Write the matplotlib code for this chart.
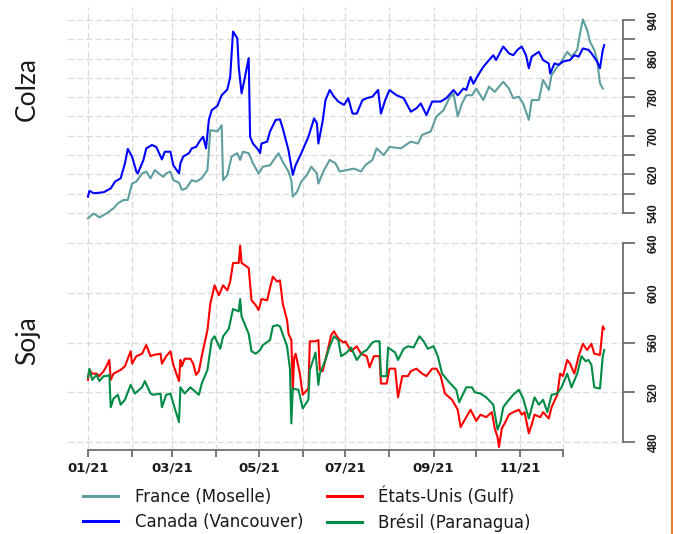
import numpy as np
import matplotlib
matplotlib.use('Agg')
import matplotlib.pyplot as plt
from matplotlib.lines import Line2D

# days counted from 2021-01-01
france_days = [0, 4, 8, 13, 18, 21, 25, 28, 31, 34, 38, 41, 44, 47, 51, 53, 55, 58, 60, 64,
               66, 69, 73, 76, 80, 84, 86, 91, 94, 95, 98, 101, 105, 107, 109, 113, 116, 120, 123, 128,
               134, 137, 141, 143, 144, 147, 150, 154, 157, 161, 162, 166, 170,
               174, 177, 182, 187, 192, 195, 200, 203, 208, 212, 220, 227, 232, 235, 241, 245, 250, 254, 257, 260,
               263, 266, 270, 273, 278, 282, 286, 292, 296, 299, 303, 306, 310, 312, 317, 320, 324, 326, 330, 333,
               337, 340, 344, 346, 348, 351, 353, 356, 358, 360, 362]
france = [529, 539, 531, 539, 550, 560, 567, 567, 601, 605, 622, 626, 612, 629, 619, 615, 622, 626, 608, 603,
          588, 591, 608, 605, 612, 629, 712, 709, 722, 608, 619, 657, 664, 650, 667, 664, 643, 622, 636, 639,
          664, 646, 626, 608, 574, 584, 605, 619, 636, 622, 601, 629, 650,
          643, 626, 629, 632, 626, 639, 650, 674, 660, 677, 674, 688, 684, 702, 709, 740, 753, 778, 788, 740,
          767, 784, 784, 798, 774, 802, 791, 812, 798, 778, 781, 767, 733, 774, 774, 816, 795, 826, 843, 854,
          874, 864, 878, 912, 941, 919, 895, 878, 857, 809, 798]

canada_days = [0, 1, 4, 11, 16, 19, 23, 26, 28, 31, 34, 35, 39, 41, 45, 48, 52, 54, 58, 60,
               64, 65, 67, 71, 73, 76, 79, 81, 83, 85, 87, 91, 94, 98, 100, 102, 105, 106, 108, 110,
               113, 114, 116, 120, 121, 122, 126, 128, 132, 135, 137, 141, 144, 146, 150, 155, 159, 161, 162, 165,
               167, 170,
               173, 176, 180, 183, 186, 189, 193, 196, 200, 204, 206, 209, 212, 217, 222, 227, 231, 234, 238, 242,
               248, 252, 257, 260, 264, 266, 269, 271, 275, 278, 282, 285, 287, 290, 292, 296, 299, 302, 305, 308,
               310, 312, 317, 320, 324, 325, 328, 331, 334, 339, 342, 345, 348, 352, 354, 358, 360, 362, 363]
canada = [574, 586, 581, 583, 591, 605, 612, 643, 673, 657, 626, 622, 650, 674, 681, 677, 651, 667, 667, 639,
          622, 643, 657, 664, 674, 677, 691, 698, 674, 733, 753, 762, 784, 796, 822, 916, 902, 843, 788, 816,
          861, 698, 684, 670, 664, 684, 688, 709, 733, 734, 715, 670, 619, 639, 664, 698, 736, 726, 684, 730,
          774, 795,
          781, 771, 764, 778, 746, 746, 774, 778, 781, 795, 746, 774, 795, 784, 778, 750, 757, 767, 743, 771,
          771, 778, 795, 784, 798, 795, 822, 808, 829, 843, 857, 867, 857, 874, 885, 871, 867, 878, 885, 867,
          840, 864, 874, 857, 850, 829, 850, 847, 854, 857, 867, 864, 881, 878, 871, 854, 840, 878, 888]

usa_days = [0, 1, 3, 6, 8, 11, 13, 15, 16, 18, 23, 26, 30, 31, 34, 38, 41, 44, 46, 51,
            52, 55, 58, 60, 64, 65, 66, 68, 72, 74, 76, 78, 80, 84, 86, 89, 92, 95, 98, 100,
            102, 106, 107, 108, 113, 115, 118, 120, 122, 126, 128, 130, 133, 135, 137, 140,
            141, 143, 144, 145, 146, 149, 151, 155, 156, 160, 162, 163, 165, 168, 171, 173, 175, 177, 180, 181,
            185, 189, 192, 196, 198, 201, 205, 206, 210, 212, 216, 218, 221, 225, 227, 231, 235, 238, 242, 245,
            248, 251, 256, 260, 262, 266, 269, 273,
            276, 280, 284, 286, 288, 289, 291, 293, 296, 299, 303, 305, 307, 310, 312, 314, 318, 320, 324, 326,
            330, 332, 334, 337, 339, 342, 345, 348, 351, 354, 356, 360, 362, 363]
usa = [530, 538, 535, 535, 533, 537, 541, 546, 530, 535, 538, 541, 553, 543, 549, 551, 558, 549, 550, 551,
       543, 549, 553, 542, 529, 546, 541, 547, 547, 543, 534, 537, 549, 570, 591, 606, 598, 606, 602, 609,
       624, 624, 638, 624, 620, 594, 590, 586, 595, 594, 604, 613, 609, 610, 591, 578,
       567, 562, 522, 548, 551, 535, 518, 523, 561, 561, 562, 538, 537, 551, 566, 569, 565, 562, 560, 561,
       553, 557, 551, 549, 540, 549, 549, 527, 527, 539, 539, 516, 533, 533, 537, 539, 535, 533, 539, 539,
       533, 519, 514, 506, 492, 500, 506, 497,
       502, 500, 504, 491, 484, 476, 491, 495, 502, 504, 506, 502, 504, 487, 494, 502, 500, 504, 499, 508,
       518, 535, 533, 546, 543, 535, 549, 559, 554, 559, 551, 550, 573, 571]

brazil_days = [0, 1, 3, 6, 8, 11, 13, 15, 16, 18, 21, 23, 26, 30, 33, 38, 40, 44, 46, 51,
               52, 55, 58, 60, 64, 65, 68, 72, 74, 78, 80, 84, 87, 89, 93, 95, 99, 102, 106, 107,
               108, 113, 115, 118, 121, 123, 128, 130, 133, 135,
               140, 142, 143, 144, 148, 151, 155, 156, 160, 162, 163, 167, 170, 173, 176, 178, 182, 185, 189, 193,
               196, 200, 202, 205, 206, 210, 211, 216, 218, 222, 225, 229, 233, 236, 239, 243, 246, 249, 254, 259,
               261, 266, 270, 272,
               276, 280, 285, 288, 290, 292, 296, 299, 303, 306, 310, 314, 317, 320, 323, 326, 330, 333, 337, 340,
               344, 347, 350, 352, 354, 356, 360, 362, 363]
brazil = [532, 539, 530, 534, 529, 533, 533, 534, 508, 515, 518, 510, 514, 526, 519, 524, 529, 519, 518, 519,
          508, 518, 519, 511, 496, 524, 519, 524, 522, 518, 527, 538, 562, 565, 555, 565, 571, 587, 585, 595,
          581, 567, 553, 551, 554, 558, 562, 573, 574, 573,
          557, 539, 495, 523, 522, 507, 514, 538, 552, 526, 535, 546, 557, 565, 562, 549, 552, 556, 546, 552,
          554, 560, 561, 561, 533, 533, 556, 552, 546, 555, 557, 556, 565, 561, 555, 557, 549, 535, 528, 522,
          512, 524, 524, 520,
          519, 516, 510, 490, 496, 508, 514, 518, 522, 515, 499, 516, 510, 514, 504, 518, 519, 524, 535, 524,
          535, 549, 545, 546, 542, 524, 523, 549, 554]

colza_ticks = [540, 580, 620, 660, 700, 740, 780, 820, 860, 900, 940]
colza_labels = ['540', '', '620', '', '700', '', '780', '', '860', '', '940']
soja_ticks = [480, 520, 560, 600, 640]

start = np.datetime64('2021-01-01')


def to_dates(days):
    return start + np.array(days, dtype='timedelta64[D]')


W, H = 673, 534
fig = plt.figure(figsize=(W / 100, H / 100), dpi=100)

left, right = 67, 623.3
ax1 = fig.add_axes([left / W, 1 - 226 / H, (right - left) / W, (226 - 7) / H])
ax2 = fig.add_axes([left / W, 1 - 450 / H, (right - left) / W, (450 - 226) / H])

months = np.arange('2021-01', '2022-01', dtype='datetime64[M]').astype('datetime64[D]')
month_labels = [m.astype(object).strftime('%m/%y') if i % 2 == 0 else '' for i, m in enumerate(months)]
xlim = (start - np.timedelta64(354, 'h'), start + np.timedelta64(9034, 'h'))

grid_kw = dict(color='#dadada', linewidth=0.9, linestyle=(0, (5, 2.5)))
axis_col = '#6e6e6e'

for ax in (ax1, ax2):
    ax.set_xlim(*xlim)
    ax.patch.set_alpha(0)
    for s in ('top', 'left', 'bottom'):
        ax.spines[s].set_visible(False)
    ax.spines['right'].set_color(axis_col)
    ax.spines['right'].set_linewidth(1.3)
    ax.yaxis.tick_right()
    ax.set_xticks(months)
    ax.grid(True, **grid_kw)
    ax.set_axisbelow(True)
    ax.tick_params(axis='y', length=8.6, width=1.3, color=axis_col, pad=9,
                   labelsize=8.5, labelcolor='#1a1a1a')

ax1.plot(to_dates(france_days), france, color='#5f9ea0', lw=1.5)
ax1.plot(to_dates(canada_days), canada, color='#0000ff', lw=1.5)
ax1.set_ylim(513.1, 966.9)
ax1.set_yticks(colza_ticks, colza_labels)
ax1.spines['right'].set_bounds(540, 940)
ax1.tick_params(axis='x', length=0, labelbottom=False)

ax2.plot(to_dates(usa_days), usa, color='#ff0000', lw=1.5)
ax2.plot(to_dates(brazil_days), brazil, color='#008b45', lw=1.5)
ax2.set_ylim(473.6, 653.7)
ax2.set_yticks(soja_ticks, [str(t) for t in soja_ticks])
ax2.spines['right'].set_bounds(480, 640)
ax2.spines['bottom'].set_visible(True)
ax2.spines['bottom'].set_color(axis_col)
ax2.spines['bottom'].set_linewidth(1.3)
ax2.spines['bottom'].set_bounds(months[0], months[-1])
ax2.set_xticklabels(month_labels)
ax2.tick_params(axis='x', length=5, width=1.3, color=axis_col, pad=3,
                labelsize=9.5, labelcolor='#1a1a1a')

for ax in (ax1, ax2):
    for lab in ax.get_yticklabels():
        lab.set_rotation(90)
        lab.set_va('center')
        lab.set_family('Liberation Sans')
        lab.set_weight('bold')
for lab in ax2.get_xticklabels():
    lab.set_weight('bold')

fig.text(27.5 / W, 1 - 89 / H, 'Colza', rotation=90, ha='center', va='center',
         fontsize=19, family='Lato', color='#1a1a1a')
fig.text(28 / W, 1 - 341 / H, 'Soja', rotation=90, ha='center', va='center',
         fontsize=19, family='Lato', color='#1a1a1a')

handles = [Line2D([], [], color='#5f9ea0', lw=2.2),
           Line2D([], [], color='#0000ff', lw=2.2),
           Line2D([], [], color='#ff0000', lw=2.2),
           Line2D([], [], color='#008b45', lw=2.2)]
names = ['France (Moselle)', 'Canada (Vancouver)', 'États-Unis (Gulf)', 'Brésil (Paranagua)']
fig.legend(handles, names, ncol=2, loc='center left', bbox_to_anchor=(83 / W, 1 - 509.5 / H),
           frameon=False, fontsize=12, borderpad=0, borderaxespad=0, handlelength=2.1,
           handletextpad=1.0, columnspacing=1.4, labelspacing=0.45, labelcolor='#1a1a1a')

fig.add_artist(Line2D([671.5 / W, 671.5 / W], [0, 1], color='#ed7d31', lw=1.5))

fig.savefig('out.png', dpi=100)
